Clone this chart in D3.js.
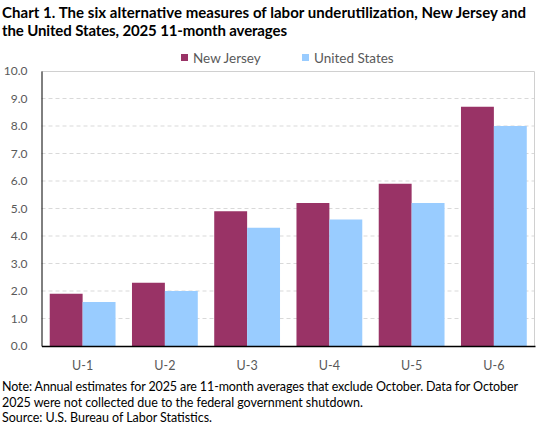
<!DOCTYPE html>
<html>
<head>
<meta charset="utf-8">
<script src="https://cdn.jsdelivr.net/npm/d3@7"></script>
<style>
  body { margin: 0; background: #fff; }
  svg { font-family: Lato, "Open Sans", sans-serif; }
</style>
</head>
<body>
<div id="chart"></div>
<script>
const width = 542;
const height = 428;

// data
const categories = ["U-1", "U-2", "U-3", "U-4", "U-5", "U-6"];
const seriesNames = ["New Jersey", "United States"];
const newJersey = [1.9, 2.3, 4.9, 5.2, 5.9, 8.7];
const unitedStates = [1.6, 2.0, 4.3, 4.6, 5.2, 8.0];
const yTicks = [0, 1, 2, 3, 4, 5, 6, 7, 8, 9, 10];
const colors = ["#993366", "#99ccff"];

const titleLines = [
  "Chart 1. The six alternative measures of labor underutilization, New Jersey and",
  "the United States, 2025 11-month averages"
];
const titleWidths = [524, 285];
const noteLines = [
  "Note:  Annual estimates for 2025 are 11-month averages that exclude October. Data for October",
  "2025 were  not collected due to the  federal government  shutdown.",
  "Source: U.S. Bureau of Labor Statistics."
];
const noteWidths = [516, 361, 210];

const margin = { top: 71, right: 7, bottom: 82, left: 41.5 };
const plotW = width - margin.left - margin.right;
const plotH = height - margin.top - margin.bottom;

const svg = d3.select("#chart").append("svg")
  .attr("width", width)
  .attr("height", height);

// 标题
svg.append("g").selectAll("text")
  .data(titleLines)
  .enter().append("text")
  .attr("x", 2)
  .attr("y", (d, i) => 17.5 + i * 18.5)
  .attr("font-size", 15)
  .attr("font-weight", "bold")
  .attr("fill", "#000")
  .attr("textLength", (d, i) => titleWidths[i])
  .attr("lengthAdjust", "spacing")
  .text(d => d);

// legend
const legend = svg.append("g").attr("font-size", 13.5).attr("fill", "#595959");
const legendX = [181, 302];
seriesNames.forEach((name, i) => {
  legend.append("rect")
    .attr("x", legendX[i]).attr("y", 54)
    .attr("width", 7).attr("height", 7)
    .attr("fill", colors[i]);
  legend.append("text")
    .attr("x", legendX[i] + 12).attr("y", 63)
    .text(name);
});

const g = svg.append("g").attr("transform", `translate(${margin.left},${margin.top})`);

const x0 = d3.scaleBand().domain(categories).range([0, plotW]).paddingInner(0.2).paddingOuter(0.1);
const x1 = d3.scaleBand().domain(seriesNames).range([0, x0.bandwidth()]);
const y = d3.scaleLinear().domain([0, 10]).range([plotH, 0]);

// 网格线
g.append("g").selectAll("line")
  .data(yTicks.filter(t => t > 0 && t < 10))
  .enter().append("line")
  .attr("x1", 0).attr("x2", plotW)
  .attr("y1", d => y(d)).attr("y2", d => y(d))
  .attr("stroke", "#d9d9d9")
  .attr("stroke-dasharray", "4,3");

// plot border top + right
g.append("path")
  .attr("d", `M0,0.5H${plotW - 0.5}V${plotH}`)
  .attr("fill", "none")
  .attr("stroke", "#d0d0d0");

// bars
const rows = categories.map((c, i) => ({ cat: c, vals: [newJersey[i], unitedStates[i]] }));
g.append("g").selectAll("g")
  .data(rows)
  .enter().append("g")
  .attr("transform", d => `translate(${x0(d.cat)},0)`)
  .selectAll("rect")
  .data(d => d.vals.map((v, i) => ({ name: seriesNames[i], v, i })))
  .enter().append("rect")
  .attr("x", d => x1(d.name))
  .attr("y", d => y(d.v))
  .attr("width", x1.bandwidth())
  .attr("height", d => plotH - y(d.v))
  .attr("fill", d => colors[d.i]);

// y axis
const yAxis = g.append("g")
  .call(d3.axisLeft(y).tickValues(yTicks).tickFormat(d3.format(".1f")).tickSize(0).tickPadding(14));
yAxis.select(".domain").attr("stroke", "#000");
yAxis.selectAll("text").attr("font-size", 12).attr("fill", "#595959").attr("font-family", "Lato, sans-serif");

// x axis
const xAxis = g.append("g")
  .attr("transform", `translate(0,${plotH})`)
  .call(d3.axisBottom(x0).tickSize(0).tickPadding(15));
xAxis.select(".domain").attr("stroke", "#000").attr("stroke-width", 1.5);
xAxis.selectAll("text").attr("font-size", 12.5).attr("fill", "#595959").attr("font-family", "Lato, sans-serif");

// note
svg.append("g").selectAll("text")
  .data(noteLines)
  .enter().append("text")
  .attr("x", 2)
  .attr("y", (d, i) => 391 + i * 15.5)
  .attr("font-size", 12.5)
  .attr("fill", "#000")
  .attr("textLength", (d, i) => noteWidths[i])
  .attr("lengthAdjust", "spacing")
  .text(d => d);
</script>
</body>
</html>
